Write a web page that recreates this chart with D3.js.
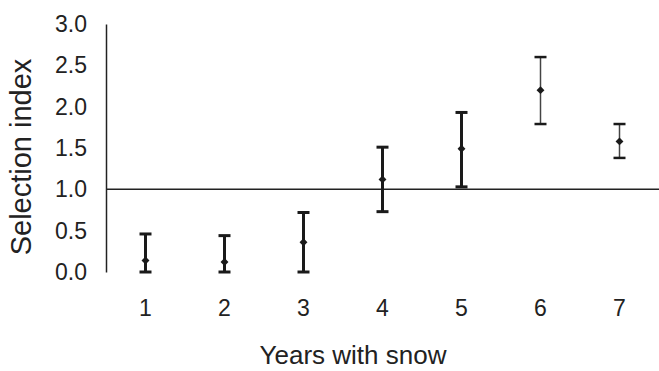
<!DOCTYPE html>
<html>
<head>
<meta charset="utf-8">
<script src="https://cdn.jsdelivr.net/npm/d3@7"></script>
<style>
  body { margin: 0; background: #fff; }
  svg { display: block; font-family: "Liberation Sans", Arial, sans-serif; }
</style>
</head>
<body>
<script>
// data
const years = ["1", "2", "3", "4", "5", "6", "7"];
const means = [0.14, 0.12, 0.36, 1.12, 1.49, 2.20, 1.58];
const lows = [0.0, 0.0, 0.0, 0.73, 1.03, 1.79, 1.38];
const highs = [0.46, 0.44, 0.72, 1.51, 1.93, 2.60, 1.79];
const yTicks = [0, 0.5, 1, 1.5, 2, 2.5, 3];
const refValue = 1.0;

{
    const width = 659, height = 371;
    const margin = {top: 24, right: 0, bottom: 99, left: 106};

    const svg = d3.select("body").append("svg")
        .attr("width", width)
        .attr("height", height);

    const x = d3.scaleBand()
        .domain(years)
        .range([margin.left, width - margin.right]);

    const y = d3.scaleLinear()
        .domain([0, 3])
        .range([height - margin.bottom, margin.top]);

    // y axis: a plain line with labels, no ticks
    const yAxis = svg.append("g")
        .attr("transform", "translate(" + margin.left + ",0)")
        .call(d3.axisLeft(y).tickValues(yTicks).tickFormat(d3.format(".1f")).tickSize(0).tickPadding(19));
    yAxis.select(".domain").attr("stroke", "#222").attr("stroke-width", 1.5);
    yAxis.selectAll("text").attr("font-size", 23).attr("fill", "#222");

    // x axis labels only
    const xAxis = svg.append("g")
        .attr("transform", "translate(0," + (height - margin.bottom) + ")")
        .call(d3.axisBottom(x).tickSize(0).tickPadding(28));
    xAxis.select(".domain").remove();
    xAxis.selectAll("text").attr("font-size", 23).attr("fill", "#222");

    // reference line at 1.0
    svg.append("line")
        .attr("x1", margin.left)
        .attr("x2", width - margin.right)
        .attr("y1", y(refValue))
        .attr("y2", y(refValue))
        .attr("stroke", "#222")
        .attr("stroke-width", 1.5);

    const pts = years.map((d, i) => ({year: d, mean: means[i], lo: lows[i], hi: highs[i], thin: i >= 5}));

    const g = svg.append("g").selectAll("g")
        .data(pts)
        .join("g")
        .attr("transform", d => "translate(" + (x(d.year) + x.bandwidth() / 2) + ",0)");

    g.append("line")
        .attr("y1", d => y(d.lo))
        .attr("y2", d => y(d.hi))
        .attr("stroke", d => d.thin ? "#444" : "#1a1a1a")
        .attr("stroke-width", d => d.thin ? 1.5 : 3);

    // caps
    g.selectAll("line.cap")
        .data(d => [{v: d.lo, thin: d.thin}, {v: d.hi, thin: d.thin}])
        .join("line")
        .attr("class", "cap")
        .attr("x1", -6).attr("x2", 6)
        .attr("y1", d => y(d.v))
        .attr("y2", d => y(d.v))
        .attr("stroke", "#1a1a1a")
        .attr("stroke-width", d => d.thin ? 2.5 : 3);

    g.append("path")
        .attr("d", d3.symbol(d3.symbolDiamond2, 40))
        .attr("transform", d => "translate(0," + y(d.mean) + ")")
        .attr("fill", "#1a1a1a");

    svg.append("text")
        .attr("x", 353)
        .attr("y", 364)
        .attr("text-anchor", "middle")
        .attr("font-size", 26)
        .attr("fill", "#222")
        .text("Years with snow");

    svg.append("text")
        .attr("transform", "translate(31,157) rotate(-90)")
        .attr("text-anchor", "middle")
        .attr("font-size", 29)
        .attr("fill", "#222")
        .text("Selection index");
}
</script>
</body>
</html>
